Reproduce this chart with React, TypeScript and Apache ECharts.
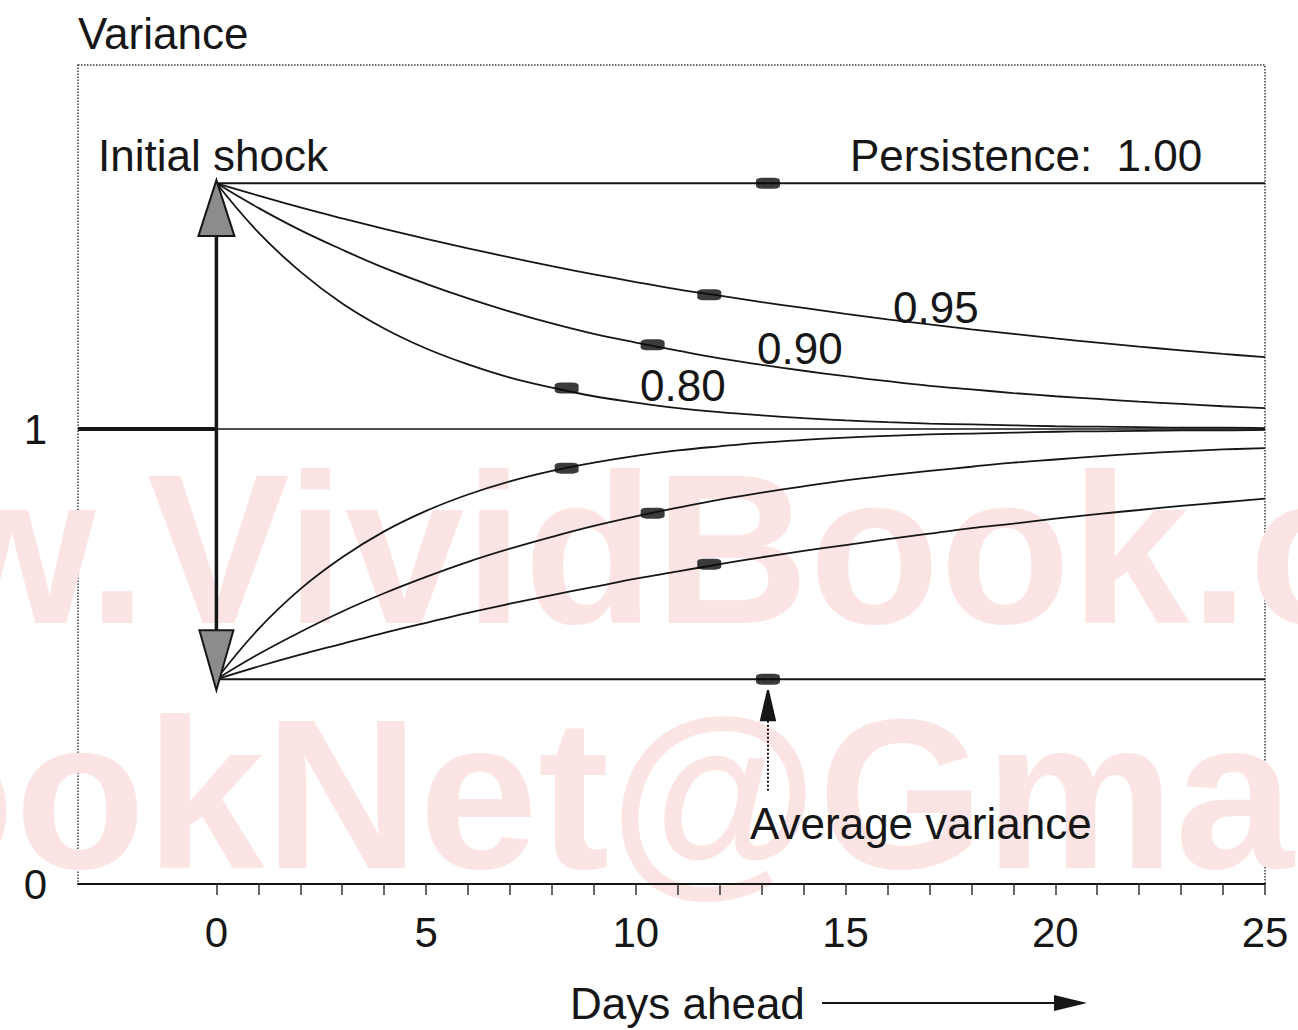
import React, { useEffect, useRef } from "react";
import * as echarts from "echarts";

// ---- data ----
const days = [0, 1, 2, 3, 4, 5, 6, 7, 8, 9, 10, 11, 12, 13, 14, 15, 16, 17, 18, 19, 20, 21, 22, 23, 24, 25];
const upper080 = [1.54, 1.432, 1.346, 1.276, 1.221, 1.177, 1.142, 1.113, 1.091, 1.072, 1.058, 1.046, 1.037, 1.03, 1.024, 1.019, 1.015, 1.012, 1.01, 1.008, 1.006, 1.005, 1.004, 1.003, 1.003, 1.002];
const upper090 = [1.54, 1.486, 1.437, 1.394, 1.354, 1.319, 1.287, 1.258, 1.232, 1.209, 1.19, 1.172, 1.155, 1.141, 1.128, 1.116, 1.105, 1.095, 1.087, 1.079, 1.072, 1.066, 1.06, 1.055, 1.05, 1.046];
const upper095 = [1.54, 1.513, 1.487, 1.463, 1.44, 1.418, 1.397, 1.377, 1.358, 1.34, 1.323, 1.307, 1.293, 1.279, 1.266, 1.253, 1.241, 1.23, 1.219, 1.209, 1.199, 1.19, 1.181, 1.173, 1.165, 1.158];
const lower080 = [0.45, 0.56, 0.648, 0.718, 0.775, 0.82, 0.856, 0.885, 0.908, 0.926, 0.941, 0.953, 0.962, 0.97, 0.976, 0.981, 0.985, 0.988, 0.99, 0.992, 0.994, 0.995, 0.996, 0.997, 0.997, 0.998];
const lower090 = [0.45, 0.505, 0.554, 0.599, 0.639, 0.675, 0.708, 0.737, 0.763, 0.787, 0.808, 0.827, 0.845, 0.86, 0.874, 0.887, 0.898, 0.908, 0.917, 0.926, 0.933, 0.94, 0.946, 0.951, 0.955, 0.958];
const lower095 = [0.45, 0.478, 0.504, 0.528, 0.552, 0.574, 0.596, 0.616, 0.635, 0.653, 0.671, 0.687, 0.703, 0.718, 0.732, 0.745, 0.758, 0.77, 0.782, 0.792, 0.803, 0.813, 0.822, 0.831, 0.839, 0.847];

const persistDays = [0, 25];
const upper100 = [1.54, 1.54];
const lower100 = [0.45, 0.45];

const averageLevelDays = [-3.3, 25];
const averageLevel = [1, 1];
const preShockDays = [-3.3, 0];
const preShockLevel = [1, 1];

const markerDays = [8.35, 10.4, 11.75, 13.15];
const upperMarkers = [1.09, 1.185, 1.295, 1.54];
const lowerMarkers = [0.914, 0.815, 0.703, 0.45];

const shockDays = [0, 0];
const shockRange = [0.47, 1.5];
const avgArrowDays = [13.15, 13.15];
const avgArrowRange = [0.205, 0.37];
const arrowHeadDays = [0, 0, 13.15];
const arrowHeadTips = [1.547, 0.426, 0.426];

const xTickLabels = [0, 5, 10, 15, 20, 25];
const xMinorTicks = [0, 1, 2, 3, 4, 5, 6, 7, 8, 9, 10, 11, 12, 13, 14, 15, 16, 17, 18, 19, 20, 21, 22, 23, 24, 25];
const yTickLabels = [0, 1];

const FONT = '"Liberation Sans", Arial, Helvetica, sans-serif';
const INK = "#161616";

const pairs = (xs: number[], ys: number[]) => xs.map((x, i) => [x, ys[i]]);

export default function App() {
  const ref = useRef<HTMLDivElement>(null);

  useEffect(() => {
    document.body.style.margin = "0";
    const chart = echarts.init(ref.current as HTMLDivElement, null, { renderer: "svg" });

    const curve = (name: string, ys: number[]) => ({
      type: "line",
      name,
      data: pairs(days, ys),
      smooth: 0.4,
      symbol: "none",
      silent: true,
      z: 3,
      lineStyle: { color: INK, width: 1.8 },
    });
    const straight = (name: string, xs: number[], ys: number[], width: number, type = "solid", z = 3) => ({
      type: "line",
      name,
      data: pairs(xs, ys),
      symbol: "none",
      silent: true,
      z,
      lineStyle: { color: INK, width, type },
    });

    const headLook = [
      { up: true, w: 36, h: 56, fill: "#8c8c8c" },
      { up: false, w: 34, h: 60, fill: "#8c8c8c" },
      { up: true, w: 14, h: 30, fill: INK },
    ];

    const text = (t: string, x: number, y: number, size = 44, extra: any = {}) => ({
      type: "text",
      x,
      y,
      z: 10,
      silent: true,
      style: { text: t, fontSize: size, fontFamily: FONT, fill: INK, align: "left", verticalAlign: "middle", ...extra },
    });

    chart.setOption({
      animation: false,
      backgroundColor: "#ffffff",
      grid: {
        left: 78,
        right: 33,
        top: 65,
        bottom: 146,
        show: true,
        borderColor: "#3a3a3a",
        borderWidth: 1.5,
        borderType: "dotted",
        backgroundColor: "transparent",
      },
      xAxis: {
        type: "value",
        min: -3.3,
        max: 25,
        axisLine: { show: true, lineStyle: { color: INK, width: 2 } },
        axisTick: { show: true, customValues: xMinorTicks, length: 11, lineStyle: { color: "#333", width: 1.5 } },
        axisLabel: { customValues: xTickLabels, fontSize: 42, fontFamily: FONT, color: INK, margin: 27 },
        splitLine: { show: false },
      },
      yAxis: {
        type: "value",
        min: 0,
        max: 1.8,
        axisLine: { show: false },
        axisTick: { show: true, customValues: yTickLabels, length: 13, lineStyle: { color: INK, width: 2 } },
        axisLabel: { customValues: yTickLabels, fontSize: 42, fontFamily: FONT, color: INK, margin: 31 },
        splitLine: { show: false },
      },
      series: [
        straight("Average level", averageLevelDays, averageLevel, 1.5),
        straight("Before shock", preShockDays, preShockLevel, 4),
        straight("Persistence 1.00 high", persistDays, upper100, 2),
        straight("Persistence 1.00 low", persistDays, lower100, 2),
        curve("0.95 high", upper095),
        curve("0.90 high", upper090),
        curve("0.80 high", upper080),
        curve("0.80 low", lower080),
        curve("0.90 low", lower090),
        curve("0.95 low", lower095),
        straight("Initial shock", shockDays, shockRange, 3.5, "solid", 4),
        straight("Average variance pointer", avgArrowDays, avgArrowRange, 2, "dotted", 4),
        {
          type: "scatter",
          name: "Upper markers",
          data: pairs(markerDays, upperMarkers),
          symbol: "roundRect",
          symbolSize: [24, 11],
          itemStyle: { color: "#0a0a0a" },
          silent: true,
          z: 6,
        },
        {
          type: "scatter",
          name: "Lower markers",
          data: pairs(markerDays, lowerMarkers),
          symbol: "roundRect",
          symbolSize: [24, 11],
          itemStyle: { color: "#0a0a0a" },
          silent: true,
          z: 6,
        },
        {
          type: "custom",
          name: "Arrow heads",
          coordinateSystem: "cartesian2d",
          data: pairs(arrowHeadDays, arrowHeadTips),
          silent: true,
          clip: false,
          z: 7,
          renderItem: (params: any, api: any) => {
            const p = api.coord([api.value(0), api.value(1)]);
            const look = headLook[params.dataIndex];
            const by = look.up ? p[1] + look.h : p[1] - look.h;
            return {
              type: "polygon",
              shape: { points: [[p[0], p[1]], [p[0] - look.w / 2, by], [p[0] + look.w / 2, by]] },
              style: { fill: look.fill, stroke: INK, lineWidth: 2 },
            };
          },
        },
      ],
      graphic: [
        {
          type: "text",
          x: -404,
          y: 548,
          z: 0,
          silent: true,
          style: { text: "www.VividBook.com", fontSize: 214, fontWeight: "bold", fontFamily: FONT, fill: "#fde4e4", align: "left", verticalAlign: "middle" },
        },
        {
          type: "text",
          x: -778,
          y: 793,
          z: 0,
          silent: true,
          style: { text: "VividBookNet@Gmail.com", fontSize: 214, fontWeight: "bold", fontFamily: FONT, fill: "#fde4e4", align: "left", verticalAlign: "middle" },
        },
        text("Variance", 78, 33),
        text("Initial shock", 98, 155),
        text("Persistence:  1.00", 850, 155),
        text("0.95", 893, 307),
        text("0.90", 757, 348),
        text("0.80", 640, 385),
        text("Average variance", 750, 823),
        text("Days ahead", 570, 1003),
        {
          type: "line",
          z: 10,
          silent: true,
          shape: { x1: 822, y1: 1003, x2: 1060, y2: 1003 },
          style: { stroke: INK, lineWidth: 2 },
        },
        {
          type: "polygon",
          z: 10,
          silent: true,
          shape: { points: [[1087, 1003], [1054, 995], [1054, 1011]] },
          style: { fill: INK },
        },
      ],
    });

    return () => chart.dispose();
  }, []);

  return <div ref={ref} style={{ width: 1298, height: 1030 }} />;
}
